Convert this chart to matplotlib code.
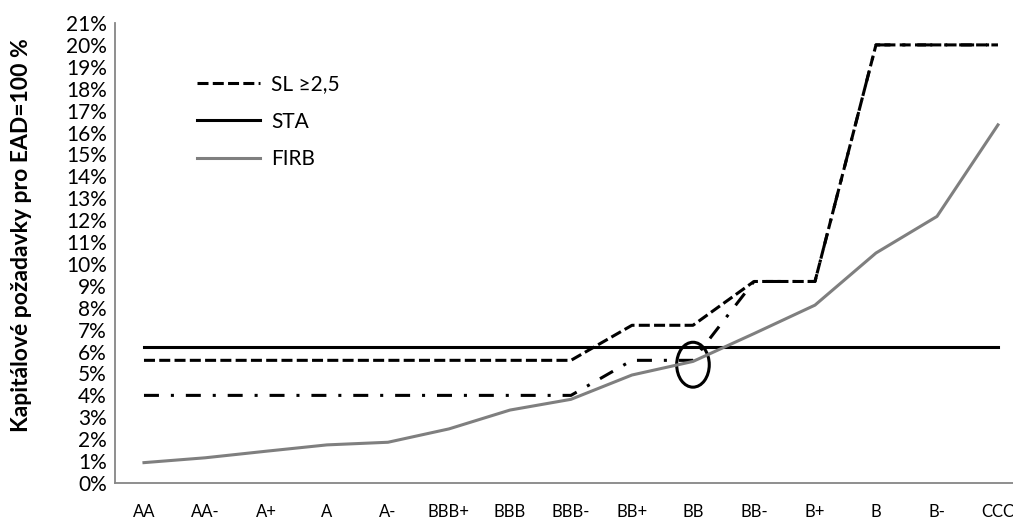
import matplotlib
matplotlib.use("Agg")
import matplotlib.pyplot as plt
from matplotlib.patches import Ellipse
from matplotlib.ticker import FuncFormatter, MultipleLocator

plt.rcParams['font.family'] = ['Lato', 'DejaVu Sans']

categories = ["AA", "AA-", "A+", "A", "A-", "BBB+", "BBB", "BBB-", "BB+",
              "BB", "BB-", "B+", "B", "B-", "CCC"]
sl_25 = [5.6, 5.6, 5.6, 5.6, 5.6, 5.6, 5.6, 5.6, 7.2, 7.2, 9.2, 9.2, 20.0, 20.0, 20.0]
sl_lt25 = [4.0, 4.0, 4.0, 4.0, 4.0, 4.0, 4.0, 4.0, 5.6, 5.6, 9.2, 9.2, 20.0, 20.0, 20.0]
sta = [6.2] * 15
firb = [0.93, 1.15, 1.45, 1.74, 1.86, 2.47, 3.33, 3.82, 4.93, 5.55, 6.82, 8.12, 10.5, 12.17, 16.35]
legend_labels = ["SL \u22652,5", "STA", "FIRB"]
ylabel = "Kapitálové požadavky pro EAD=100 %"

# highlighted point (ellipse annotation)
mark_category = "BB"
mark_value = 5.4
mark_w, mark_h = 0.534, 2.05

fig = plt.figure(figsize=(10.13, 5.29), dpi=100)
ax = fig.add_axes([115 / 1013, 1 - 483 / 529, 915 / 1013, 460 / 529])

x = list(range(len(categories)))
lw = 2.2
l_sl, = ax.plot(x, sl_25, color="black", lw=lw, dashes=(3.6, 1.4), solid_capstyle="butt")
ax.plot(x, sl_lt25, color="black", lw=lw, dashes=(4.9, 3.9, 1.0, 3.9))
l_sta, = ax.plot(x, sta, color="black", lw=lw)
l_firb, = ax.plot(x, firb, color="#7f7f7f", lw=lw)

ell = Ellipse((categories.index(mark_category), mark_value), width=mark_w, height=mark_h,
              fill=False, edgecolor="black", lw=2.2)
ax.add_patch(ell)

ax.set_xlim(-0.475, 14.525)
ax.set_ylim(0, 21)
ax.yaxis.set_major_locator(MultipleLocator(1))
ax.yaxis.set_major_formatter(FuncFormatter(lambda v, p: f"{v:.0f}%"))
ax.set_xticks(x)
ax.set_xticklabels(categories)
ax.tick_params(axis="y", length=0, pad=6, labelsize=15)
ax.tick_params(axis="x", length=0, pad=15, labelsize=12)

for s in ["top", "right"]:
    ax.spines[s].set_visible(False)
for s in ["left", "bottom"]:
    ax.spines[s].set_color("#868686")
    ax.spines[s].set_linewidth(1.3)

fig.text(22 / 1013, 1 - 235 / 529, ylabel, rotation=90, ha="center", va="center",
         fontsize=16.5, fontweight="bold")

leg = ax.legend([l_sl, l_sta, l_firb], legend_labels, loc="upper left",
                bbox_to_anchor=(193 / 1013, 1 - 70 / 529), bbox_transform=fig.transFigure,
                frameon=False, fontsize=15, handlelength=3.0, handletextpad=0.55,
                labelspacing=0.84, borderaxespad=0, borderpad=0.2)

fig.savefig("out.png", dpi=100)
